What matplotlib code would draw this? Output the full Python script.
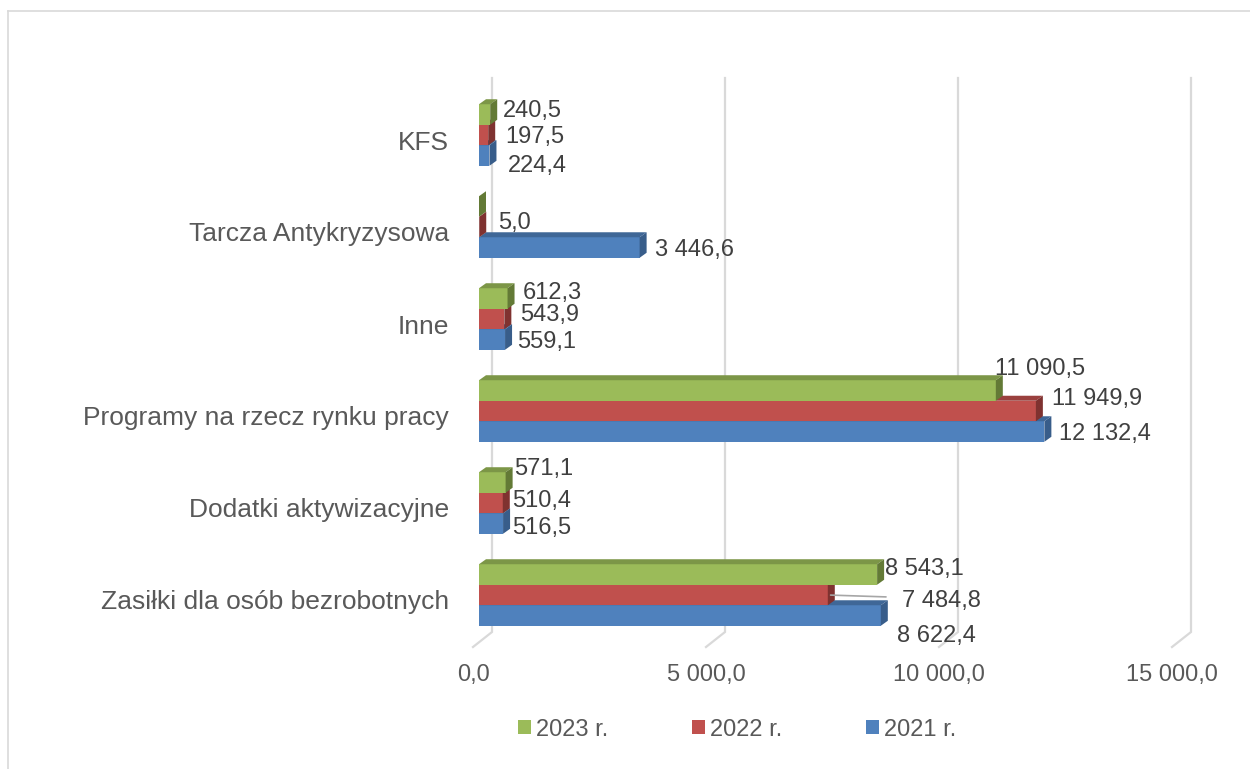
import matplotlib

matplotlib.use("Agg")
import matplotlib.pyplot as plt
from matplotlib.patches import Patch, Polygon
from matplotlib.transforms import ScaledTranslation

# data (bottom category first)
CATEGORIES = [
    "Zasiłki dla osób bezrobotnych",
    "Dodatki aktywizacyjne",
    "Programy na rzecz rynku pracy",
    "Inne",
    "Tarcza Antykryzysowa",
    "KFS",
]
VALUES_2021 = [8622.4, 516.5, 12132.4, 559.1, 3446.6, 224.4]
VALUES_2022 = [7484.8, 510.4, 11949.9, 543.9, 5.0, 197.5]
VALUES_2023 = [8543.1, 571.1, 11090.5, 612.3, 0.0, 240.5]
SERIES_NAMES = ["2021 r.", "2022 r.", "2023 r."]
X_TICKS = [0, 5000, 10000, 15000]

# styling: (front, top, side) per series
COLOURS = {
    "2021 r.": ("#4F81BD", "#3F6797", "#385D8A"),
    "2022 r.": ("#C0504D", "#9A403E", "#7F3230"),
    "2023 r.": ("#9BBB59", "#7C9647", "#637A36"),
}
TEXT_GREY = "#595959"
LABEL_GREY = "#404040"
GRID_GREY = "#D9D9D9"

DPI = 100
PX_PER_UNIT = 699 / 15000  # horizontal scale of the front plane
PX_PER_CAT = 92
BAR_H = 0.223
DX = 7 / PX_PER_UNIT  # depth of the 3D bars
DY = 5 / PX_PER_CAT

# hand tweaks of data label positions (pixels), Excel moved some of them
LABEL_NUDGE = {
    (5, "2023 r."): (2, -6), (5, "2022 r."): (6, 0), (5, "2021 r."): (7, 8),
    (4, "2022 r."): (8, -6), (4, "2021 r."): (4, 0),
    (3, "2023 r."): (4, -8), (3, "2022 r."): (5, -7), (3, "2021 r."): (1, 0),
    (2, "2023 r."): (-12, -24), (2, "2022 r."): (5, -14), (2, "2021 r."): (4, 0),
    (1, "2023 r."): (-3, -16), (1, "2022 r."): (-2, -5), (1, "2021 r."): (-2, 2),
    (0, "2023 r."): (-3, -8), (0, "2022 r."): (63, 4), (0, "2021 r."): (5, 18),
}
LEADER = {(0, "2022 r.")}


def pl_number(v):
    return format(v, ",.1f").replace(",", " ").replace(".", ",")


def draw_bar(ax, yc, v, colours):
    front, top, side = colours
    y0, y1 = yc - BAR_H / 2, yc + BAR_H / 2
    if v > 0:
        ax.barh(yc, v, height=BAR_H, color=front, linewidth=0, zorder=3)
        ax.add_patch(Polygon(
            [(0, y1), (v, y1), (v + DX, y1 + DY), (DX, y1 + DY)],
            closed=True, facecolor=top, linewidth=0, zorder=3))
    ax.add_patch(Polygon(
        [(v, y0), (v, y1), (v + DX, y1 + DY), (v + DX, y0 + DY)],
        closed=True, facecolor=side, linewidth=0, zorder=3))


def main():
    plt.rcParams["font.family"] = ["Liberation Sans", "DejaVu Sans"]
    fig = plt.figure(figsize=(12.5, 7.69), dpi=DPI)

    # outer chart frame (only top and left edges fall inside the picture)
    fig.add_artist(plt.Line2D([8 / 1250, 8 / 1250], [0, 1 - 11 / 769],
                              color=GRID_GREY, lw=1.2))
    fig.add_artist(plt.Line2D([8 / 1250, 1], [1 - 11 / 769, 1 - 11 / 769],
                              color=GRID_GREY, lw=1.2))

    left_px, right_px = 479, 479 + 699
    top_px = 595 - 5.75 * PX_PER_CAT
    bottom_px = 595 + 0.75 * PX_PER_CAT
    ax = fig.add_axes([left_px / 1250, 1 - bottom_px / 769,
                       (right_px - left_px) / 1250, (bottom_px - top_px) / 769])
    ax.set_xlim(0, 15000)
    ax.set_ylim(-0.75, 5.75)
    for s in ax.spines.values():
        s.set_visible(False)
    ax.set_xticks([])

    # back-wall gridlines with their floor foot
    back = 13 / PX_PER_UNIT
    foot = -6 / PX_PER_UNIT
    g_top = (595 - 78) / PX_PER_CAT
    g_bot = (595 - 632) / PX_PER_CAT
    f_bot = (595 - 647) / PX_PER_CAT
    for t in X_TICKS:
        ax.plot([t + back, t + back, t + foot], [g_top, g_bot, f_bot],
                color=GRID_GREY, lw=1.6, zorder=1, clip_on=False,
                solid_joinstyle="miter")
        ax.text(t + foot, (595 - 675) / PX_PER_CAT, pl_number(t),
                ha="center", va="center", fontsize=17, color=TEXT_GREY)

    series = {"2021 r.": VALUES_2021, "2022 r.": VALUES_2022, "2023 r.": VALUES_2023}
    offsets = {"2021 r.": -BAR_H, "2022 r.": 0.0, "2023 r.": BAR_H}
    for i in range(len(CATEGORIES)):
        for name in SERIES_NAMES:
            v = series[name][i]
            yc = i + offsets[name]
            draw_bar(ax, yc, v, COLOURS[name])
            if v == 0:
                continue
            ndx, ndy = LABEL_NUDGE.get((i, name), (0, 0))
            ox = (4 + ndx) * 72 / DPI
            oy = -(ndy + 8.5) * 72 / DPI
            ax.annotate(pl_number(v), xy=(v + DX, yc), xytext=(ox, oy),
                        textcoords="offset points", ha="left", va="baseline",
                        fontsize=17, color=LABEL_GREY, zorder=5)
            if (i, name) in LEADER:
                ax.annotate("", xy=(v, yc), xytext=(ox - 6 * 0.72, -2 * 0.72),
                            textcoords="offset points",
                            arrowprops=dict(arrowstyle="-", color="#A6A6A6", lw=1.2),
                            zorder=4)

    ax.set_yticks(range(len(CATEGORIES)))
    ax.set_yticklabels(CATEGORIES, fontsize=19, color=TEXT_GREY)
    ax.tick_params(axis="y", length=0, pad=30 * 72 / DPI)
    shift = ScaledTranslation(0, -5 / DPI, fig.dpi_scale_trans)
    for lab in ax.get_yticklabels():
        lab.set_transform(lab.get_transform() + shift)

    handles = [Patch(facecolor=COLOURS[n][0], label=n)
               for n in ["2023 r.", "2022 r.", "2021 r."]]
    fig.legend(handles=handles, loc="center", ncol=3, frameon=False,
               bbox_to_anchor=(737 / 1250, 1 - 729.5 / 769),
               fontsize=17, labelcolor=TEXT_GREY, handlelength=0.55,
               handleheight=0.55, handletextpad=0.2, columnspacing=3.55)

    fig.savefig("out.png", dpi=DPI)


if __name__ == "__main__":
    main()
